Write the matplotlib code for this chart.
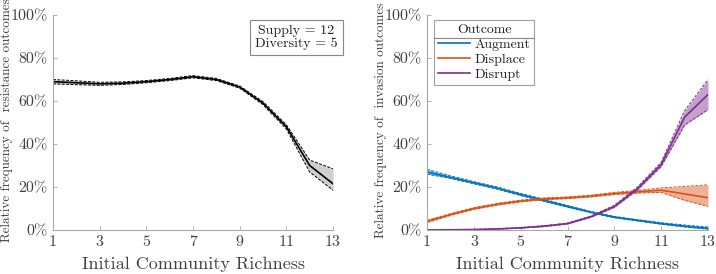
import matplotlib
matplotlib.use("Agg")
import matplotlib.pyplot as plt
import numpy as np
from matplotlib.ticker import FuncFormatter

plt.rcParams['font.family'] = ['cmr10', 'DejaVu Serif']
plt.rcParams['axes.unicode_minus'] = False
plt.rcParams['mathtext.fontset'] = 'cm'

richness = [1, 2, 3, 4, 5, 6, 7, 8, 9, 10, 11, 12, 13]

resist_mean = [69.0, 68.5, 68.0, 68.3, 69.0, 70.0, 71.3, 70.0, 66.5, 59.0, 48.0, 30.0, 21.5]
resist_low  = [68.0, 67.6, 67.3, 67.7, 68.5, 69.5, 70.8, 69.5, 66.0, 58.3, 47.0, 27.0, 18.5]
resist_high = [70.0, 69.4, 68.7, 68.9, 69.5, 70.5, 71.8, 70.5, 67.0, 59.7, 49.0, 32.5, 28.5]

augment_mean = [27.0, 24.5, 22.0, 19.5, 16.5, 13.8, 11.0, 8.3, 6.0, 4.5, 3.0, 1.8, 0.8]
augment_low  = [26.0, 24.0, 21.5, 19.0, 16.0, 13.3, 10.6, 8.0, 5.7, 4.2, 2.7, 1.4, 0.4]
augment_high = [28.2, 25.2, 22.5, 20.0, 17.0, 14.3, 11.4, 8.6, 6.3, 4.8, 3.4, 2.3, 1.4]

displace_mean = [4.0, 7.2, 10.0, 12.0, 13.5, 14.5, 15.0, 15.8, 17.0, 17.8, 18.5, 16.8, 15.0]
displace_low  = [3.5, 6.8, 9.6, 11.6, 13.1, 14.1, 14.6, 15.4, 16.5, 17.2, 17.5, 13.8, 11.0]
displace_high = [4.5, 7.6, 10.4, 12.4, 13.9, 14.9, 15.4, 16.2, 17.5, 18.4, 19.6, 20.3, 21.0]

disrupt_mean = [0.0, 0.1, 0.2, 0.5, 1.0, 1.8, 3.0, 6.2, 11.0, 19.4, 30.5, 52.5, 63.0]
disrupt_low  = [0.0, 0.0, 0.1, 0.4, 0.9, 1.6, 2.8, 5.9, 10.5, 18.7, 29.5, 48.8, 56.0]
disrupt_high = [0.1, 0.2, 0.3, 0.6, 1.1, 2.0, 3.2, 6.5, 11.5, 20.1, 31.5, 55.5, 70.0]

series_names = ["Augment", "Displace", "Disrupt"]
series_colors = ["#0072BD", "#D95319", "#7E2F8E"]

xticks = [1, 3, 5, 7, 9, 11, 13]
yticks = [0, 20, 40, 60, 80, 100]

text_color = '#404040'
spine_color = '#a8a8a8'

fig = plt.figure(figsize=(7.16, 2.74), dpi=100)
ax1 = fig.add_axes([53/716, 1-230/274, 280/716, 215/274])
ax2 = fig.add_axes([427/716, 1-230/274, 281/716, 215/274])

def style(ax, ylabel, xlab):
    ax.set_xlim(1, 13)
    ax.set_ylim(0, 100)
    ax.set_xticks(xticks)
    ax.set_yticks(yticks)
    ax.yaxis.set_major_formatter(FuncFormatter(lambda v, p: f"{int(v)}%"))
    for s in ['top', 'right']:
        ax.spines[s].set_visible(False)
    for s in ['left', 'bottom']:
        ax.spines[s].set_color(spine_color)
        ax.spines[s].set_linewidth(0.8)
    ax.tick_params(direction='in', length=3, width=0.6, color=spine_color,
                   labelsize=11.5, labelcolor=text_color, pad=4)
    ax.set_xlabel("Initial Community Richness", fontsize=13, color=text_color, labelpad=5)
    ax.set_ylabel(ylabel, fontsize=9.5, color=text_color)
    ax.yaxis.set_label_coords(xlab, 0.51)

def band(ax, x, m, lo, hi, color, fill, alpha):
    ax.fill_between(x, lo, hi, color=fill, alpha=alpha, linewidth=0)
    ax.plot(x, lo, color=color, lw=0.7, ls=(0, (3, 1.5)))
    ax.plot(x, hi, color=color, lw=0.7, ls=(0, (3, 1.5)))
    line, = ax.plot(x, m, color=color, lw=1.2)
    return line

band(ax1, richness, resist_mean, resist_low, resist_high, 'black', '#a0a0a0', 0.5)
style(ax1, "Relative frequency of  resistance outcomes", -0.142)
ax1.text(0.87, 0.895, "Supply = 12\nDiversity = 5", transform=ax1.transAxes,
         ha='center', va='center', multialignment='center', fontsize=10,
         color='#222222', linespacing=1.1,
         bbox=dict(boxstyle='square,pad=0.35', fc='white', ec='#888888', lw=0.8))

handles = []
for name, col, m, lo, hi in zip(series_names, series_colors,
                                [augment_mean, displace_mean, disrupt_mean],
                                [augment_low, displace_low, disrupt_low],
                                [augment_high, displace_high, disrupt_high]):
    h = band(ax2, richness, m, lo, hi, col, col, 0.45)
    h.set_label(name)
    handles.append(h)
style(ax2, "Relative frequency of  invasion outcomes", -0.142)

leg = ax2.legend(handles=handles, title="Outcome", loc='upper left',
                 bbox_to_anchor=(0.015, 0.99), fontsize=10, title_fontsize=10,
                 frameon=True, fancybox=False, edgecolor='#888888',
                 handlelength=2.3, handletextpad=0.3, borderpad=0.3,
                 labelspacing=0.15, borderaxespad=0.2)
leg.get_frame().set_linewidth(0.8)
leg.get_title().set_fontweight('normal')
leg.get_title().set_color('#222222')
for t in leg.get_texts():
    t.set_color('#222222')

fig.canvas.draw()
bb = leg.get_frame().get_window_extent()
tb = leg.get_title().get_window_extent()
yline = tb.y0 - 2
inv = fig.transFigure.inverted()
p0 = inv.transform((bb.x0, yline))
p1 = inv.transform((bb.x1, yline))
fig.add_artist(plt.Line2D([p0[0], p1[0]], [p0[1], p1[1]], color='#888888', lw=0.8,
                          transform=fig.transFigure))

fig.savefig("out.png", dpi=100)
